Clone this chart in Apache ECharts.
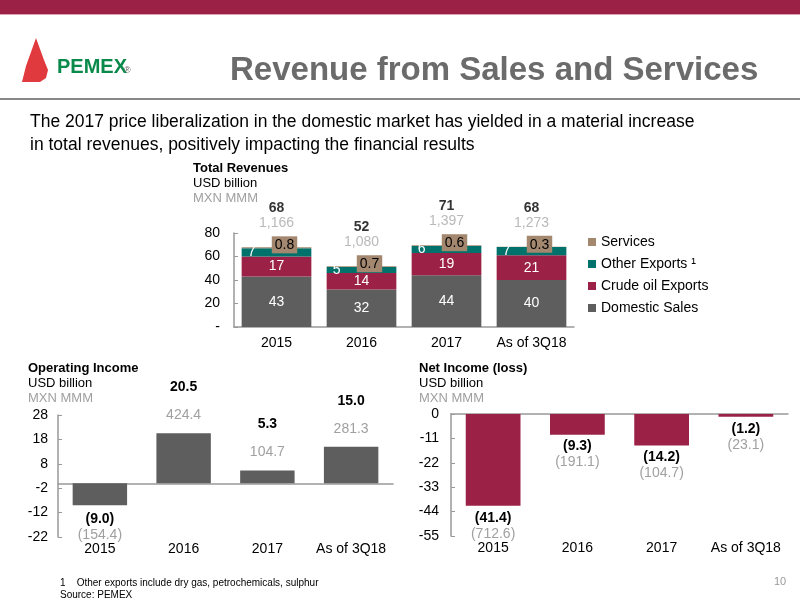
<!DOCTYPE html>
<html>
<head>
<meta charset="utf-8">
<script src="https://cdn.jsdelivr.net/npm/echarts@6/dist/echarts.min.js"></script>
<style>
html,body{margin:0;padding:0;background:#fff;}
#main{width:800px;height:600px;}
</style>
</head>
<body>
<div id="main"></div>
<script>
// data
var years = ['2015', '2016', '2017', 'As of 3Q18'];
var domestic = [43, 32, 44, 40];
var crude = [17, 14, 19, 21];
var otherExp = [7, 5, 6, 7];
var services = [0.8, 0.7, 0.6, 0.3];
var totalUsd = [68, 52, 71, 68];
var totalMxn = ['1,166', '1,080', '1,397', '1,273'];
var opIncome = [-9.0, 20.5, 5.3, 15.0];
var opIncomeMxn = [-154.4, 424.4, 104.7, 281.3];
var netIncome = [-41.4, -9.3, -14.2, -1.2];
var netIncomeMxn = [-712.6, -191.1, -104.7, -23.1];

var FONT = "'Liberation Sans',Arial,sans-serif";
var C_DOM = '#5e5e5e', C_CRU = '#9b2246', C_OTH = '#00716b', C_SRV = '#a3876f';

function fmt(v) {
  var s = Math.abs(v).toFixed(1);
  return v < 0 ? '(' + s + ')' : s;
}

var stackTop = totalUsd.map(function (t, i) {
  return domestic[i] + crude[i] + otherExp[i] + services[i];
});

var rich2 = {
  a: { fontSize: 14, fontWeight: 'bold', color: '#000', lineHeight: 16 },
  b: { fontSize: 14, color: '#a0a0a0', lineHeight: 16 }
};

var opData = opIncome.map(function (v, i) {
  return {
    value: v,
    label: v < 0
      ? { position: 'bottom', distance: 6, formatter: '{a|' + fmt(v) + '}\n{b|' + fmt(opIncomeMxn[i]) + '}' }
      : { position: 'top', distance: 10, formatter: '{a|' + fmt(v) + '}\n\n{b|' + fmt(opIncomeMxn[i]) + '}' }
  };
});

var myChart = echarts.init(document.getElementById('main'));
var axisTxt = { color: '#000', fontSize: 14, fontFamily: FONT, interval: 0 };
var line = { lineStyle: { color: '#999', width: 1.5 } };
var tick = { show: true, length: 4, inside: true, lineStyle: { color: '#999' } };

var option = {
  animation: false,
  textStyle: { fontFamily: FONT },
  legend: {
    orient: 'vertical', left: 583, top: 230, itemGap: 8,
    itemWidth: 8, itemHeight: 8, icon: 'rect',
    textStyle: { fontSize: 14, color: '#000', fontFamily: FONT },
    data: ['Services', 'Other Exports ¹', 'Crude oil Exports', 'Domestic Sales']
  },
  grid: [
    { left: 234, top: 233, width: 340, height: 94 },
    { left: 58, top: 415, width: 335, height: 122 },
    { left: 451, top: 414, width: 337, height: 122 }
  ],
  xAxis: [
    { gridIndex: 0, type: 'category', data: years, axisLine: line, axisTick: { show: false },
      axisLabel: Object.assign({ margin: 9 }, axisTxt) },
    { gridIndex: 1, type: 'category', data: years, axisLine: Object.assign({ onZero: true }, line),
      axisTick: { show: false }, axisLabel: { show: false } },
    { gridIndex: 1, type: 'category', data: years, position: 'bottom', axisLine: { show: false, onZero: false },
      axisTick: { show: false }, axisLabel: Object.assign({ margin: 5 }, axisTxt) },
    { gridIndex: 2, type: 'category', data: years, position: 'top', axisLine: line,
      axisTick: { show: false }, axisLabel: { show: false } },
    { gridIndex: 2, type: 'category', data: years, position: 'bottom', axisLine: { show: false, onZero: false },
      axisTick: { show: false }, axisLabel: Object.assign({ margin: 5 }, axisTxt) }
  ],
  yAxis: [
    { gridIndex: 0, min: 0, max: 80, interval: 20, splitLine: { show: false },
      axisLine: Object.assign({ show: true }, line), axisTick: tick,
      axisLabel: Object.assign({ margin: 14, formatter: function (v) { return v === 0 ? '-' : v; } }, axisTxt) },
    { gridIndex: 1, min: -22, max: 28, interval: 10, splitLine: { show: false },
      axisLine: Object.assign({ show: true }, line), axisTick: tick,
      axisLabel: Object.assign({ margin: 10 }, axisTxt) },
    { gridIndex: 2, min: -55, max: 0, interval: 11, splitLine: { show: false },
      axisLine: Object.assign({ show: true }, line), axisTick: tick,
      axisLabel: Object.assign({ margin: 12 }, axisTxt) }
  ],
  series: [
    { name: 'Domestic Sales', type: 'bar', stack: 'rev', xAxisIndex: 0, yAxisIndex: 0,
      barWidth: '82%', data: domestic, itemStyle: { color: C_DOM },
      label: { show: true, color: '#fff', fontSize: 14 } },
    { name: 'Crude oil Exports', type: 'bar', stack: 'rev', xAxisIndex: 0, yAxisIndex: 0,
      data: crude, itemStyle: { color: C_CRU },
      label: { show: true, color: '#fff', fontSize: 14 } },
    { name: 'Other Exports ¹', type: 'bar', stack: 'rev', xAxisIndex: 0, yAxisIndex: 0,
      data: otherExp, itemStyle: { color: C_OTH },
      label: { show: true, position: 'insideLeft', distance: 6, color: '#fff', fontSize: 14 } },
    { name: 'Services', type: 'bar', stack: 'rev', xAxisIndex: 0, yAxisIndex: 0,
      data: services, itemStyle: { color: C_SRV },
      label: { show: true, position: 'top', distance: -6, offset: [8, 0], color: '#000', fontSize: 14,
        backgroundColor: C_SRV, padding: [2, 3, 1, 3] } },
    { name: 'totals', type: 'scatter', xAxisIndex: 0, yAxisIndex: 0, symbolSize: 0,
      data: stackTop, silent: true,
      label: { show: true, position: 'top', distance: 16,
        formatter: function (p) { return '{a|' + totalUsd[p.dataIndex] + '}\n{b|' + totalMxn[p.dataIndex] + '}'; },
        rich: { a: { fontSize: 14, fontWeight: 'bold', color: '#000', lineHeight: 14 },
                b: { fontSize: 14, color: '#a8a8a8', lineHeight: 16 } } } },
    { name: 'Operating Income', type: 'bar', xAxisIndex: 1, yAxisIndex: 1, barWidth: '65%',
      data: opData, itemStyle: { color: C_DOM },
      label: { show: true, rich: rich2 } },
    { name: 'Net Income', type: 'bar', xAxisIndex: 3, yAxisIndex: 2, barWidth: '65%',
      data: netIncome, itemStyle: { color: C_CRU },
      label: { show: true, position: 'bottom', distance: 4,
        formatter: function (p) {
          var i = p.dataIndex;
          return '{a|' + fmt(netIncome[i]) + '}\n{b|' + fmt(netIncomeMxn[i]) + '}';
        },
        rich: { a: { fontSize: 14, fontWeight: 'bold', color: '#000', lineHeight: 16 },
                b: { fontSize: 14, color: '#a0a0a0', lineHeight: 16 } } } }
  ],
  graphic: [
    { type: 'rect', shape: { x: 0, y: 0, width: 800, height: 14 }, style: { fill: '#9b2246' } },
    { type: 'rect', shape: { x: 0, y: 14, width: 800, height: 1 }, style: { fill: '#d9a3b4' } },
    { type: 'rect', shape: { x: 0, y: 98, width: 800, height: 2 }, style: { fill: '#888' } },
    { type: 'polygon', shape: { points: [[36, 38], [44, 60], [48, 70], [46, 78], [40, 82], [22, 82], [26, 66]] },
      style: { fill: '#e03a3e' } },
    { type: 'text', left: 57, top: 57, style: { text: 'PEMEX', fontSize: 20, fontWeight: 'bold', fill: '#0a8a4a', fontFamily: FONT } },
    { type: 'text', left: 124, top: 66, style: { text: '®', fontSize: 9, fill: '#666' } },
    { type: 'text', left: 230, top: 54, style: { text: 'Revenue from Sales and Services', fontSize: 33, fontWeight: 'bold', fill: '#6b6b6b', fontFamily: FONT } },
    { type: 'text', left: 30, top: 111, style: { text: 'The 2017 price liberalization in the domestic market has yielded in a material increase\nin total revenues, positively impacting the financial results', fontSize: 17.5, lineHeight: 23, fill: '#000', fontFamily: FONT } },
    { type: 'text', left: 193, top: 162, style: { text: '{a|Total Revenues}\n{b|USD billion}\n{c|MXN MMM}', rich: {
      a: { fontSize: 13, fontWeight: 'bold', fill: '#000', lineHeight: 15 },
      b: { fontSize: 13, fill: '#000', lineHeight: 15 }, c: { fontSize: 13, fill: '#a0a0a0', lineHeight: 15 } } } },
    { type: 'text', left: 28, top: 362, style: { text: '{a|Operating Income}\n{b|USD billion}\n{c|MXN MMM}', rich: {
      a: { fontSize: 13, fontWeight: 'bold', fill: '#000', lineHeight: 15 },
      b: { fontSize: 13, fill: '#000', lineHeight: 15 }, c: { fontSize: 13, fill: '#a0a0a0', lineHeight: 15 } } } },
    { type: 'text', left: 419, top: 362, style: { text: '{a|Net Income (loss)}\n{b|USD billion}\n{c|MXN MMM}', rich: {
      a: { fontSize: 13, fontWeight: 'bold', fill: '#000', lineHeight: 15 },
      b: { fontSize: 13, fill: '#000', lineHeight: 15 }, c: { fontSize: 13, fill: '#a0a0a0', lineHeight: 15 } } } },
    { type: 'text', left: 60, top: 577, style: { text: '1    Other exports include dry gas, petrochemicals, sulphur\nSource: PEMEX', fontSize: 10, lineHeight: 12, fill: '#000', fontFamily: FONT } },
    { type: 'text', left: 774, top: 576, style: { text: '10', fontSize: 11, fill: '#999', fontFamily: FONT } }
  ]
};
myChart.setOption(option);
</script>
</body>
</html>
